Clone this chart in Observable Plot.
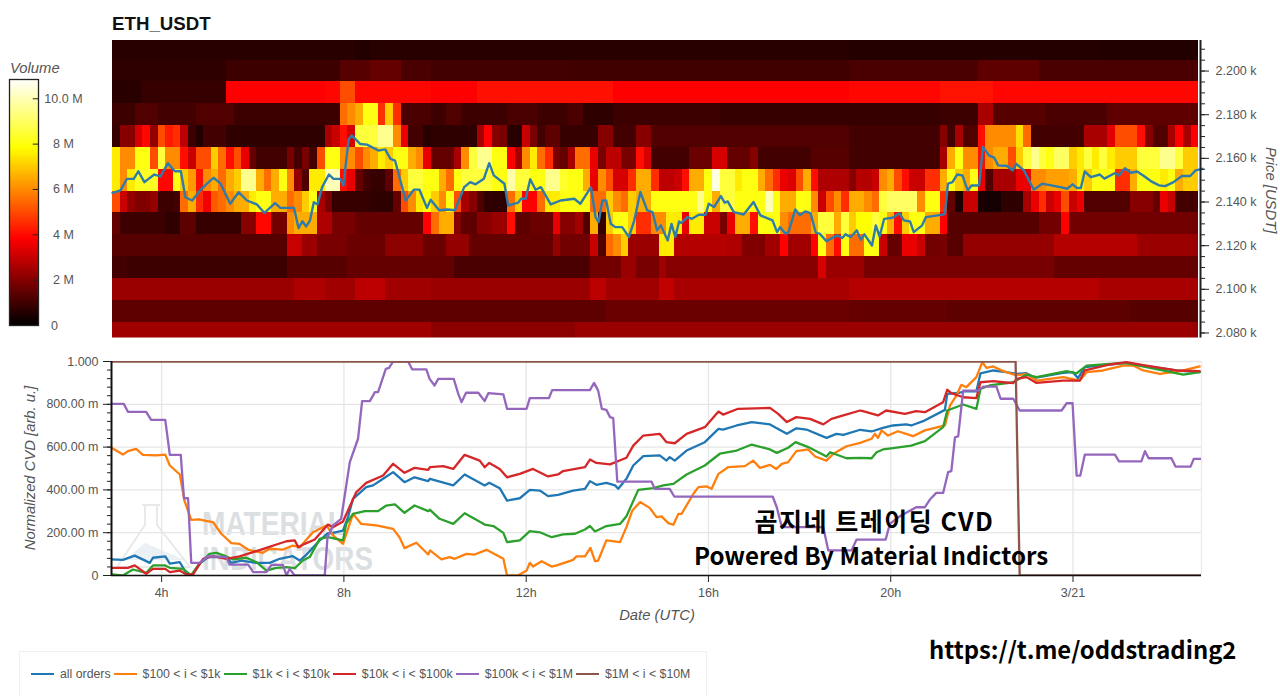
<!DOCTYPE html>
<html><head><meta charset="utf-8">
<script src="https://cdn.jsdelivr.net/npm/d3@7"></script>
<script src="https://cdn.jsdelivr.net/npm/@observablehq/plot@0.6"></script>
<style>
html,body{margin:0;padding:0;background:#fff;font-family:"Liberation Sans",Arial,sans-serif;}
#page{position:relative;width:1280px;height:696px;overflow:hidden;}
#page svg.plot,#page>svg{position:absolute;}
.t{position:absolute;white-space:nowrap;color:#555;font-size:14.8px;font-style:italic;}
.big{position:absolute;white-space:nowrap;color:#000;font-family:"Noto Sans CJK KR","Noto Sans",sans-serif;font-weight:700;}
#legend{position:absolute;left:19px;top:651px;width:688px;height:45px;border:1px solid #f0f0f0;border-bottom:none;box-sizing:border-box;display:flex;align-items:center;padding:0 0 0 11px;font-size:12.3px;color:#555;}
#legend span.i{display:flex;align-items:center;margin-right:3px;}
#legend i{display:block;width:23px;height:2px;margin-right:6px;}
</style></head><body><div id="page"></div>
<script>
// ---- price rows: each row is a list of [start bin, volume in millions]; a value holds until the next start. One bin is 10 minutes.
const r2210=[[0,0.6],[32,0.5],[34,0.6],[97,0.55],[130,0.5]];
const r2200=[[0,0.7],[15,0.9],[30,1.3],[34,1.5],[38,1.1],[42,1.0],[60,0.95],[97,1.1],[114,1.4],[122,1.1]];
const r2190=[[0,0.6],[4,0.8],[15,3.8],[28,3.9],[30,5],[32,3.9],[42,3.8],[48,4.05],[66,3.8],[97,3.9],[109,4.1],[116,3.9]];
const r2180=[[0,0.9],[3,1.2],[6,1.0],[11,1.2],[16,0.9],[30,5.5],[31,6],[32,6.5],[33,8],[35,4.5],[36,7],[37,4.5],[38,1.1],[42,0.9],[44,1.2],[46,0.9],[52,1.1],[56,0.9],[60,1.1],[62,0.7],[66,0.9],[80,0.8],[109,0.9],[114,2.5],[116,1.3],[123,1.1],[131,1.4]];
const r2170=[[0,0.8],[1,2],[3,3.2],[4,3.9],[5,2.2],[6,5],[7,4.2],[8,4.5],[9,2.8],[10,0.9],[11,0.5],[12,1.0],[15,0.7],[28,2.5],[29,3],[30,4],[31,3.2],[32,8.5],[35,9.5],[37,6],[38,3.5],[39,1.0],[41,0.6],[42,0.7],[48,2.5],[49,3.8],[50,2],[51,1.8],[52,0.6],[54,3],[55,1.8],[56,1],[57,1.4],[59,0.8],[64,2],[66,1],[69,2],[71,1.2],[97,1.0],[109,2],[110,1],[111,2.5],[112,1.2],[114,4],[115,6],[119,7.3],[120,5.5],[121,1.0],[128,2.5],[131,3.4],[132,5],[135,4],[136,2],[137,1.2],[139,2.5],[140,3.8],[141,2.5],[142,3.8]];
const r2160=[[0,7.5],[1,6],[3,8],[5,5],[6,8.5],[7,6],[9,4],[10,3],[11,5],[13,7],[14,5.5],[15,4],[16,5],[17,3.5],[18,1.5],[19,1],[23,1.8],[24,1],[25,1.8],[26,1],[27,5],[28,8],[30,6],[32,5],[33,6],[34,6.5],[35,7.5],[36,7],[37,8],[39,6.5],[40,6],[41,3.5],[42,1.5],[45,2.5],[46,6],[47,8.5],[48,9.5],[50,8],[52,3.8],[53,2.5],[54,6],[55,7.5],[56,5.5],[57,4.5],[58,1.8],[59,1.5],[60,2.5],[61,5.5],[63,3.5],[64,1.8],[65,2.8],[67,1.8],[69,4],[70,3.2],[71,1],[76,1.6],[79,3.2],[81,1.5],[84,2],[85,1],[92,1.3],[97,1.0],[109,2.5],[110,6.5],[111,8],[112,6],[114,4],[115,6],[116,6.5],[118,5],[119,7],[120,8.5],[121,9.5],[122,8.5],[123,8],[124,9],[126,7],[127,7.5],[128,8.5],[129,7.5],[130,8.5],[131,7.5],[132,7],[135,8.5],[138,9.5],[140,8.5],[141,7]];
const r2150=[[0,7.5],[1,6],[2,7.5],[3,8.2],[6,3.9],[8,8],[9,7],[10,6.2],[11,4],[12,6],[13,6.5],[14,5.5],[15,6.5],[16,7],[17,9.5],[19,6.5],[20,5.5],[21,6.5],[22,8],[23,6],[24,2.2],[25,1.2],[26,7.5],[28,10],[30,4],[31,3.5],[32,1.5],[33,1],[34,0.8],[36,1.4],[37,5.5],[38,7],[39,8.5],[41,8],[43,6.5],[44,5.5],[45,8],[46,8.5],[50,8],[52,9.8],[53,8.5],[55,8],[57,9.5],[59,8.3],[60,8],[62,6.5],[63,3.5],[64,6],[65,5],[66,3.2],[68,4.5],[69,6.5],[71,4.5],[72,2.8],[74,3],[75,4],[76,6.5],[78,8],[79,10.5],[80,8.5],[82,7.5],[83,8],[85,6.5],[86,5.5],[87,4.5],[88,3.5],[89,3.3],[90,5],[91,6.5],[92,4],[93,2.6],[97,2],[98,2.7],[100,3],[101,6],[102,6.5],[103,5],[104,4],[105,3],[107,4.5],[109,6.5],[110,8],[111,7],[112,6.5],[113,8],[114,3.5],[115,1.2],[116,2.5],[119,3.5],[121,6],[123,6.3],[126,6.5],[127,7.5],[128,7],[129,8],[132,4.5],[134,6.5],[135,8],[138,7.5],[139,8],[140,6.5],[141,7]];
const r2140=[[0,5],[1,3],[2,2.2],[3,1.9],[5,2.2],[6,0.9],[8,1],[9,5.5],[10,6.5],[11,4.5],[12,3.6],[13,5.2],[14,5.5],[15,6],[16,6.5],[18,7.5],[19,8],[21,6.5],[23,5.5],[24,6],[25,7],[26,8],[27,2.5],[28,1.8],[29,0.8],[34,0.7],[37,1.5],[38,5],[39,6],[40,7.5],[41,7.8],[42,7],[43,6],[44,8],[45,5],[46,2.5],[47,2],[48,1.2],[49,0.7],[52,5.5],[53,7],[54,3.8],[56,5.5],[57,7.5],[59,8],[63,5.5],[65,7],[66,6],[67,5.5],[68,7],[69,6.5],[71,8],[77,9.5],[78,8],[79,6.5],[80,8.5],[82,8],[86,10],[87,8],[88,6.5],[90,8],[92,6],[93,3],[94,5],[95,6],[96,4.5],[97,6.5],[99,6],[100,5.5],[101,8.5],[102,9],[106,6],[107,8],[109,4.5],[110,1.5],[111,0.4],[112,3],[114,0.4],[115,0.3],[117,0.7],[120,2.5],[121,3.5],[122,4.5],[123,3],[124,3.5],[125,5],[126,3],[127,3.5],[128,1.2],[134,2],[137,1.5],[138,3.5],[139,3],[140,1]];
const r2130=[[0,1.5],[1,0.9],[7,0.7],[9,1.4],[11,0.8],[17,2],[19,3.9],[21,1.7],[23,6],[24,6.5],[27,2.6],[29,1.8],[32,1.5],[41,3.8],[42,5.5],[43,6.5],[45,2],[46,1.4],[48,2],[50,2.3],[52,4],[53,1.4],[55,1.6],[58,3.5],[59,2],[61,2.4],[62,1.2],[63,6.5],[64,0.8],[65,7],[66,8],[68,7],[69,4.5],[71,6],[73,7.5],[75,3.5],[76,7.5],[78,3],[80,1.8],[81,3.5],[82,6.5],[84,4],[85,8],[88,6],[89,5.5],[92,6.5],[93,8.5],[95,6.5],[96,8.5],[97,7],[98,7.8],[100,8.5],[101,8],[102,6.5],[103,4],[104,7],[105,8],[107,6.5],[109,3.8],[110,1.3],[122,1.7],[125,3.8],[126,1.7]];
const r2120=[[0,1.3],[23,3],[25,2.3],[27,1.8],[31,1.6],[36,2.1],[41,1.6],[44,2.2],[47,1.5],[58,2.2],[59,1.7],[63,3],[64,1.2],[65,5.5],[66,6],[67,7],[68,2.3],[72,7.5],[74,2.7],[81,2.6],[83,1.9],[86,2.4],[88,3.8],[89,2.4],[92,3.8],[93,8],[94,5.5],[95,4],[96,8],[97,5.5],[99,8],[101,3],[102,1.5],[104,3.5],[106,3],[107,1.7],[109,1.8],[110,1.3],[112,2.2],[124,2.7],[135,2.3]];
const r2110=[[0,1],[2,0.9],[23,1.3],[31,1.5],[45,1.1],[63,1.7],[67,2.3],[69,1.8],[72,2.4],[73,2],[93,3.2],[94,2.3],[99,1.8],[124,1.5]];
const r2100=[[0,2.3],[24,2.6],[28,2.4],[32,2.8],[36,2.4],[42,2.3],[63,2.8],[65,2.4],[72,2.9],[74,2.5],[97,2.7],[130,2.5]];
const r2090=[[0,1.4],[65,1.6],[97,1.5],[110,1.4],[134,1.3]];
const r2080=[[0,2.4],[42,2.1],[61,2.3]];
const priceRows=[[2210,r2210],[2200,r2200],[2190,r2190],[2180,r2180],[2170,r2170],[2160,r2160],[2150,r2150],[2140,r2140],[2130,r2130],[2120,r2120],[2110,r2110],[2100,r2100],[2090,r2090],[2080,r2080]];
const binsTotal=143, startHour=2.9;

// ---- price line: [bin, price]
const priceLine=[[0,2144.2],[1.05,2145.3],[1.9,2150.6],[2.8,2150.6],[3.4,2154.1],[4.2,2149.1],[5.5,2152.6],[6.3,2151.7],[7.3,2157.8],[8.2,2154.1],[9,2154.1],[9.6,2142.2],[10.5,2140.7],[11.6,2145.6],[12.4,2148.3],[13.3,2151.1],[14.2,2148.6],[15.5,2139.2],[16.6,2144.5],[17.7,2140.7],[19,2138.9],[20,2135],[21.4,2139.5],[22.1,2137.3],[23.9,2137.3],[24.5,2128],[25,2131.2],[25.5,2128.8],[26,2131.5],[26.5,2139.9],[27,2138.9],[27.6,2146.8],[28.5,2152.6],[29.1,2150.6],[30,2150.6],[30.4,2147.6],[31.1,2168.9],[31.5,2170.5],[32.6,2166.6],[33.5,2166.3],[35,2163.6],[35.9,2164.1],[36.6,2159.8],[37.2,2159],[38.6,2140.7],[39.7,2145.7],[40.4,2145.7],[41.4,2137.3],[41.9,2141],[43,2136.2],[44.1,2136.6],[45.1,2136.2],[46.3,2146.8],[47.1,2149.1],[47.8,2148.1],[48.9,2150.7],[49.6,2157.8],[50.2,2152.2],[51.6,2148.4],[52.1,2138.4],[53.4,2139.7],[53.8,2141.5],[54.4,2141.5],[55,2150.4],[55.7,2145.6],[56.4,2146.8],[57.7,2138.9],[59,2140.7],[60.8,2141.5],[61.6,2139.2],[63,2146.8],[63.6,2133.1],[64,2130.8],[64.5,2140.7],[65,2140.7],[65.6,2130],[66.2,2128.5],[67.1,2128.5],[68,2124],[68.7,2131.6],[69.5,2144.6],[70.4,2136.2],[71.1,2135.4],[71.7,2127],[72.2,2129.3],[73.1,2122.4],[73.6,2130],[74.1,2124],[74.6,2131.1],[74.9,2130.4],[75.7,2133.1],[76.3,2132.3],[77.2,2134.2],[78.1,2134.2],[78.5,2139.2],[79.2,2137.7],[80.1,2142.7],[80.6,2139.7],[81,2140.3],[81.8,2135.4],[83.1,2134.3],[84.4,2140],[85.3,2133.9],[86.9,2131.6],[87.5,2126.2],[87.9,2128.5],[88.6,2125.5],[89,2126.2],[89.9,2136.6],[90.5,2133.9],[91.2,2135.7],[91.9,2134.9],[92.6,2125.9],[93.1,2125.5],[94,2122.1],[95.4,2124.7],[96.1,2123.5],[96.5,2125.2],[97.2,2124],[98,2127],[98.5,2122.7],[99,2125.2],[100,2120.1],[100.5,2129.3],[101,2124.2],[101.6,2132.3],[102.7,2132.8],[103.6,2134.9],[104.2,2131.6],[105,2131.1],[105.5,2126.2],[106.6,2129.3],[107.1,2133.1],[109.3,2134.2],[109.6,2134.6],[110,2148.4],[110.6,2149.1],[111.2,2152.6],[111.9,2152.2],[112.6,2145.3],[113.1,2147.6],[114.1,2147.6],[114.6,2165.2],[115.4,2161.3],[116.1,2160.3],[116.6,2156.8],[117.8,2156.5],[118.5,2154.5],[119,2157.5],[120,2154.5],[121.3,2145.6],[122.4,2148.4],[124.8,2146.8],[125.7,2146.1],[126.4,2148.1],[127,2146.4],[127.5,2146.4],[128,2154],[128.8,2151.4],[130,2152.6],[130.6,2150.7],[132,2153.3],[132.5,2152.2],[133.3,2155.5],[134.1,2153.4],[134.9,2154],[135.8,2151.9],[136.7,2149.6],[137.8,2147.6],[138.6,2147.3],[139.7,2149.1],[140.8,2151.9],[141.9,2151.9],[142.6,2154.5],[143.5,2155.2]];

// ---- normalized CVD: [hour, value]
const cvdAll=[[2.9,.075],[3.15,.073],[3.41,.093],[3.74,.059],[3.81,.083],[4.08,.089],[4.18,.055],[4.4,.062],[4.54,.011],[4.65,0],[4.83,.055],[5.02,.086],[5.42,.086],[5.53,.059],[5.75,.07],[6.08,.059],[6.37,.059],[6.59,.078],[6.88,.09],[7.03,.07],[7.18,.098],[7.47,.164],[7.65,.198],[7.76,.199],[7.98,.21],[8.09,.273],[8.2,.358],[8.49,.413],[8.64,.421],[8.86,.452],[9.08,.483],[9.33,.436],[9.55,.459],[9.85,.441],[9.89,.452],[10.4,.421],[10.65,.472],[11.09,.421],[11.19,.433],[11.42,.408],[11.58,.35],[11.86,.361],[12.08,.4],[12.3,.397],[12.48,.371],[12.7,.377],[13.03,.397],[13.29,.405],[13.4,.441],[13.54,.424],[13.76,.433],[13.95,.421],[14.02,.405],[14.2,.452],[14.35,.514],[14.57,.558],[14.93,.561],[15.08,.537],[15.15,.553],[15.26,.537],[15.52,.584],[15.92,.623],[16.22,.685],[16.32,.682],[16.62,.701],[16.95,.717],[17.35,.706],[17.53,.685],[17.72,.662],[17.93,.688],[18.15,.682],[18.59,.643],[18.81,.662],[18.96,.657],[19.33,.681],[19.58,.673],[19.83,.69],[20.05,.701],[20.34,.706],[20.45,.701],[20.71,.721],[21.19,.774],[21.24,.849],[21.51,.854],[21.62,.861],[21.88,.861],[21.97,.945],[22.25,.958],[22.54,.95],[22.76,.942],[22.98,.945],[23.16,.924],[23.78,.947],[24,.95],[24.11,.922],[24.26,.974],[24.81,.986],[25.17,.994],[25.61,.978],[26.27,.958],[26.78,.95]];
const cvd100=[[2.9,.597],[3.15,.565],[3.26,.581],[3.44,.592],[3.59,.564],[3.88,.561],[4.08,.565],[4.18,.514],[4.4,.472],[4.5,.35],[4.65,.26],[4.83,.262],[4.94,.257],[5.13,.249],[5.31,.195],[5.53,.151],[5.71,.148],[5.9,.12],[6.22,.106],[6.37,.125],[6.66,.121],[6.88,.14],[7.03,.132],[7.32,.202],[7.62,.234],[7.76,.187],[7.98,.148],[8.2,.288],[8.38,.241],[8.71,.234],[9.08,.218],[9.22,.179],[9.33,.128],[9.59,.153],[9.85,.098],[9.89,.117],[10.14,.075],[10.32,.086],[10.43,.078],[10.69,.101],[10.87,.098],[11.13,.12],[11.5,.078],[11.58,0],[11.82,0],[12.01,.023],[12.08,.059],[12.15,.042],[12.34,.067],[12.56,.042],[12.67,.047],[13.03,.073],[13.1,.089],[13.29,.089],[13.41,.129],[13.51,.067],[13.58,.07],[13.76,.164],[14.06,.156],[14.2,.226],[14.33,.304],[14.5,.343],[14.71,.316],[14.86,.273],[14.97,.276],[15.12,.245],[15.23,.237],[15.34,.288],[15.41,.288],[15.67,.382],[15.78,.413],[15.96,.416],[16.07,.405],[16.22,.475],[16.43,.506],[16.8,.511],[16.98,.537],[17.13,.503],[17.35,.517],[17.49,.498],[17.61,.522],[17.75,.53],[17.93,.581],[18.19,.589],[18.34,.556],[18.59,.537],[18.74,.569],[19.03,.604],[19.33,.62],[19.58,.639],[19.65,.662],[19.72,.643],[19.8,.678],[19.94,.654],[20.16,.674],[20.49,.651],[20.75,.678],[21.19,.701],[21.3,.794],[21.44,.841],[21.55,.891],[21.66,.88],[21.88,.927],[22.01,.997],[22.1,.97],[22.25,.977],[22.47,.955],[22.76,.935],[22.98,.942],[23.2,.911],[23.78,.927],[24.15,.911],[24.3,.95],[24.66,.958],[25.1,.981],[25.32,.981],[25.54,.958],[25.91,.942],[26.42,.958],[26.78,.977]];
const cvd1k=[[2.9,.005],[3.15,0],[3.37,.028],[3.66,.012],[3.81,.047],[4.08,.047],[4.18,.036],[4.47,.031],[4.65,0],[4.83,.055],[5.05,.101],[5.2,.106],[5.42,.089],[5.57,.075],[5.86,.083],[6.08,.062],[6.3,.023],[6.52,.036],[6.74,.039],[6.92,.034],[7.1,.07],[7.25,.086],[7.47,.171],[7.65,.179],[7.98,.164],[8.05,.241],[8.2,.288],[8.46,.301],[8.75,.301],[8.93,.327],[9.12,.332],[9.33,.293],[9.55,.327],[9.85,.301],[9.89,.307],[10.1,.265],[10.4,.241],[10.65,.291],[11.09,.238],[11.28,.231],[11.5,.199],[11.58,.156],[11.86,.164],[12.08,.207],[12.3,.202],[12.56,.179],[12.81,.192],[13.07,.195],[13.29,.215],[13.4,.231],[13.51,.206],[13.76,.231],[14.06,.241],[14.2,.277],[14.46,.4],[14.79,.408],[15.01,.421],[15.23,.428],[15.52,.472],[15.92,.514],[16.25,.569],[16.62,.584],[16.95,.612],[17.35,.589],[17.5,.573],[17.75,.597],[17.91,.623],[18.19,.6],[18.59,.556],[18.67,.576],[19.03,.548],[19.33,.55],[19.58,.548],[19.69,.576],[19.83,.589],[20.05,.595],[20.45,.607],[20.75,.628],[21.15,.693],[21.24,.771],[21.59,.799],[21.88,.779],[21.97,.872],[22.17,.888],[22.69,.903],[22.98,.939],[23.2,.927],[23.86,.955],[24.08,.945],[24.3,.981],[24.81,.989],[25.17,.992],[25.61,.974],[26.42,.939],[26.78,.95]];
const cvd10k=[[2.9,.036],[3.26,.036],[3.41,.047],[3.66,.008],[3.81,.031],[4.08,.031],[4.18,.016],[4.4,.023],[4.54,.005],[4.69,.005],[4.91,.078],[5.13,.09],[5.42,.078],[5.71,.089],[6.08,.114],[6.3,.129],[6.52,.145],[6.74,.16],[6.92,.164],[7,.132],[7.14,.148],[7.36,.168],[7.65,.238],[7.76,.226],[7.98,.252],[8.09,.304],[8.27,.389],[8.49,.433],[8.86,.467],[9.08,.522],[9.33,.48],[9.55,.503],[9.85,.494],[9.89,.506],[10.18,.511],[10.4,.498],[10.65,.564],[10.98,.537],[11.09,.506],[11.19,.526],[11.42,.498],[11.58,.459],[11.86,.475],[12.15,.498],[12.48,.463],[12.7,.472],[12.81,.488],[13.29,.506],[13.4,.542],[13.54,.526],[13.84,.519],[14.2,.55],[14.35,.607],[14.57,.654],[14.93,.662],[15.08,.623],[15.26,.618],[15.52,.662],[15.92,.693],[16.22,.766],[16.32,.752],[16.65,.779],[17.35,.783],[17.53,.755],[17.72,.717],[17.93,.74],[18.23,.732],[18.52,.706],[18.7,.732],[18.96,.748],[19.33,.771],[19.39,.768],[19.72,.748],[19.9,.771],[20.31,.755],[20.56,.768],[20.75,.763],[21.15,.81],[21.24,.868],[21.33,.852],[21.59,.833],[21.88,.829],[21.97,.903],[22.25,.908],[22.47,.903],[22.69,.899],[22.76,.919],[22.98,.927],[23.2,.9],[23.78,.911],[24.15,.911],[24.26,.958],[24.81,.986],[25.17,.997],[25.61,.981],[26.27,.958],[26.78,.955]];
const cvd100k=[[2.9,.802],[3.17,.802],[3.26,.765],[3.66,.765],[3.77,.727],[4.08,.727],[4.18,.564],[4.42,.564],[4.49,.361],[4.58,.361],[4.65,.059],[4.83,.059],[5.02,.09],[5.42,.086],[5.49,.051],[5.9,.051],[6.01,.016],[6.3,.016],[6.41,.05],[6.66,.05],[6.74,0],[6.81,.031],[6.92,0],[7.58,0],[7.64,.179],[7.76,.234],[7.94,.265],[8.13,.53],[8.31,.639],[8.4,.815],[8.57,.815],[8.68,.857],[8.75,.857],[8.92,.966],[8.99,.97],[9.08,1],[9.41,1],[9.5,.963],[9.81,.963],[9.88,.919],[9.99,.888],[10.07,.919],[10.41,.919],[10.51,.849],[10.58,.81],[10.68,.854],[10.95,.854],[11.09,.815],[11.17,.852],[11.5,.846],[11.58,.779],[12.01,.779],[12.08,.829],[12.5,.829],[12.57,.866],[13.4,.866],[13.49,.9],[13.58,.864],[13.66,.779],[13.76,.774],[13.84,.74],[13.91,.735],[14,.439],[14.75,.439],[14.82,.405],[15.15,.405],[15.25,.369],[17.41,.369],[17.5,.319],[17.61,.226],[18.52,.226],[18.63,.117],[19.14,.117],[19.25,.168],[19.89,.168],[19.98,.241],[20.2,.277],[20.56,.319],[20.75,.319],[20.86,.355],[21,.386],[21.15,.386],[21.26,.483],[21.33,.488],[21.41,.646],[21.48,.65],[21.59,.864],[21.92,.864],[22.03,.883],[22.32,.883],[22.41,.826],[22.69,.826],[22.83,.771],[23.75,.771],[23.86,.805],[23.99,.805],[24.08,.467],[24.16,.467],[24.26,.565],[24.92,.565],[25.01,.533],[25.5,.533],[25.58,.581],[25.66,.548],[26.16,.548],[26.25,.509],[26.58,.509],[26.65,.545],[26.8,.545]];
const cvd1M=[[2.9,1],[22.74,1],[22.83,0],[26.82,0]];
const seriesNames=["all orders","$100 < i < $1k","$1k < i < $10k","$10k < i < $100k","$100k < i < $1M","$1M < i < $10M"];
const seriesColors=["#1f77b4","#ff7f0e","#2ca02c","#d62728","#9467bd","#8c564b"];
const seriesValues=[cvdAll,cvd100,cvd1k,cvd10k,cvd100k,cvd1M];
const priceTicks=[2080,2100,2120,2140,2160,2180,2200];
const priceMinor=[2080,2085,2090,2095,2100,2105,2110,2115,2120,2125,2130,2135,2140,2145,2150,2155,2160,2165,2170,2175,2180,2185,2190,2195,2200,2205,2210];
const hourTicks=[4,8,12,16,20,24];
const cvdTicks=[0,.2,.4,.6,.8,1];
const cvdMinor=[0,.04,.08,.12,.16,.2,.24,.28,.32,.36,.4,.44,.48,.52,.56,.6,.64,.68,.72,.76,.8,.84,.88,.92,.96,1];
const volumeTicks=[0,2,4,6,8,10];
const volumeLabels=["0","2 M","4 M","6 M","8 M","10.0 M"];
const volumeMax=10.85;

const FONT='"Liberation Sans",Arial,sans-serif';
const hot={type:"linear",domain:[0,3.8,7.8,volumeMax],range:["#000000","#ff0000","#ffff00","#ffffff"],clamp:true};
const page=document.getElementById("page");
function put(svg,left,top){svg.style.position="absolute";svg.style.left=left+"px";svg.style.top=top+"px";svg.style.background="transparent";page.appendChild(svg);return svg;}
function label(txt,css){const d=document.createElement("div");d.className="t";d.textContent=txt;Object.assign(d.style,css);page.appendChild(d);return d;}
function big(txt,css){const d=document.createElement("div");d.className="big";d.textContent=txt;Object.assign(d.style,css);page.appendChild(d);return d;}

// heat cells
const cells=priceRows.flatMap(([price,row])=>row.map(([start,v],i)=>({
  p1:price-5,p2:price+5,t1:startHour+start/6,t2:startHour+(i+1<row.length?row[i+1][0]:binsTotal)/6,v})));
const heat=Plot.plot({
  width:1280,height:350,marginTop:40,marginBottom:12.5,marginLeft:112,marginRight:80,
  style:{fontFamily:FONT,fontSize:"12.5px",background:"transparent"},
  x:{domain:[startHour,26.775],axis:null},
  y:{domain:[2077.7,2214],axis:null},
  color:hot,
  marks:[
    Plot.rect(cells,{x1:"t1",x2:"t2",y1:"p1",y2:"p2",fill:"v",clip:true,shapeRendering:"crispEdges"}),
    Plot.line(priceLine,{x:d=>startHour+d[0]/6,y:d=>d[1],stroke:"#2f7cab",strokeWidth:2.4}),
    Plot.ruleX([26.775],{stroke:"#222",strokeWidth:2}),
    Plot.axisY({anchor:"right",ticks:priceMinor,tickSize:4,tickFormat:()=>"",label:null,stroke:"#222"}),
    Plot.axisY({anchor:"right",ticks:priceTicks,tickSize:8,tickPadding:7,label:null,stroke:"#222",fill:"#555",
      tickFormat:d=>d3.format(".3f")(d/1000)+" k"})
  ]});
put(heat,0,0);

// color bar
const steps=d3.range(0,volumeMax,0.05);
const bar=Plot.plot({
  width:120,height:270,marginTop:10,marginBottom:14,marginLeft:9,marginRight:82,
  style:{fontFamily:FONT,fontSize:"12.5px",background:"transparent",overflow:"visible"},
  x:{domain:[0,1],axis:null},y:{domain:[0,volumeMax],axis:null},color:hot,
  marks:[
    Plot.rect(steps,{x1:0,x2:1,y1:d=>d,y2:d=>d+0.05,fill:d=>d,shapeRendering:"crispEdges"}),
    Plot.frame({stroke:"#222",strokeWidth:1.3}),
    Plot.ruleY(volumeTicks.slice(1),{x1:.82,x2:1,stroke:"#222"}),
    Plot.text(volumeTicks,{x:d=>d===0?1.55:1.86,y:d=>d,text:(d,i)=>volumeLabels[i],fill:"#555",textAnchor:"middle",fontSize:12.5})
  ]});
put(bar,0,69);

// watermark
const ns="http://www.w3.org/2000/svg";
const wm=document.createElementNS(ns,"svg");
wm.setAttribute("width","1280");wm.setAttribute("height","696");
wm.innerHTML=`<path d="M142 505H160M145 505V525L117 567H190L157 525V505" fill="none" stroke="#e9e9e9" stroke-width="2"/>
<path d="M125 560L145 543L185 560" fill="#eaf0f3" stroke="none"/>
<text x="202" y="535" font-family="Liberation Sans" font-weight="700" font-size="34" fill="#dcdfe2" textLength="143" lengthAdjust="spacingAndGlyphs">MATERIAL</text>
<text x="202" y="570" font-family="Liberation Sans" font-weight="700" font-size="34" fill="#dcdfe2" textLength="171" lengthAdjust="spacingAndGlyphs">INDICATORS</text>`;
wm.style.position="absolute";wm.style.left="0";wm.style.top="0";
page.appendChild(wm);

// CVD
const cvd=Plot.plot({
  width:1280,height:290,marginTop:11,marginBottom:65,marginLeft:112,marginRight:78,
  style:{fontFamily:FONT,fontSize:"12.5px",background:"transparent"},
  x:{domain:[startHour,26.82],axis:null},
  y:{domain:[0,1],axis:null},
  marks:[
    Plot.gridX(hourTicks,{stroke:"#e6e6e6",strokeOpacity:1,strokeWidth:1.3}),
    Plot.gridY(cvdTicks,{stroke:"#e6e6e6",strokeOpacity:1,strokeWidth:1.3}),
    Plot.ruleX([26.82],{stroke:"#ececec",strokeWidth:1.3}),
    ...seriesValues.map((s,i)=>Plot.line(s,{x:d=>d[0],y:d=>d[1],stroke:seriesColors[i],strokeWidth:2.3,clip:true})),
    Plot.ruleX([startHour],{stroke:"#111",strokeWidth:2}),
    Plot.ruleY([0],{stroke:"#111",strokeWidth:1.5}),
    Plot.axisY({ticks:cvdMinor,tickSize:4,tickFormat:()=>"",label:null,stroke:"#222"}),
    Plot.axisY({ticks:cvdTicks,tickSize:8,tickPadding:5,label:null,stroke:"#222",fill:"#555",
      tickFormat:v=>v===1?"1.000":v===0?"0":d3.format(".2f")(v*1000)+" m"}),
    Plot.axisX({ticks:hourTicks,tickSize:7,tickPadding:6,label:null,stroke:"#222",fill:"#555",
      tickFormat:h=>h===24?"3/21":h+"h"})
  ]});
put(cvd,-1,349.5);

// texts
const title=document.createElement("div");
title.textContent="ETH_USDT";
Object.assign(title.style,{position:"absolute",left:"112px",top:"13px",fontWeight:"700",fontSize:"18.7px",color:"#111"});
page.appendChild(title);
label("Volume",{left:"10px",top:"60px"});
label("Price [USDT]",{left:"1262px",top:"147px",writingMode:"vertical-rl",lineHeight:"18px"});
label("Normalized CVD [arb. u.]",{left:"30px",top:"468px",transform:"translate(-50%,-50%) rotate(-90deg)"});
label("Date (UTC)",{left:"657px",top:"615px",transform:"translate(-50%,-50%)"});
big("곰지네 트레이딩 CVD",{left:"874.5px",top:"520px",transform:"translate(-50%,-50%)",fontSize:"25px",letterSpacing:"1.5px"});
big("Powered By Material Indictors",{left:"694px",top:"554px",transform:"translateY(-50%)",fontSize:"24.1px"});
big("https://t.me/oddstrading2",{left:"929px",top:"648px",transform:"translateY(-50%)",fontSize:"23.8px"});

// legend
const lg=document.createElement("div");lg.id="legend";
seriesNames.forEach((n,i)=>{const s=document.createElement("span");s.className="i";
  const b=document.createElement("i");b.style.background=seriesColors[i];
  const t=document.createElement("span");t.textContent=n;s.append(b,t);lg.appendChild(s);});
page.appendChild(lg);
</script></body></html>
